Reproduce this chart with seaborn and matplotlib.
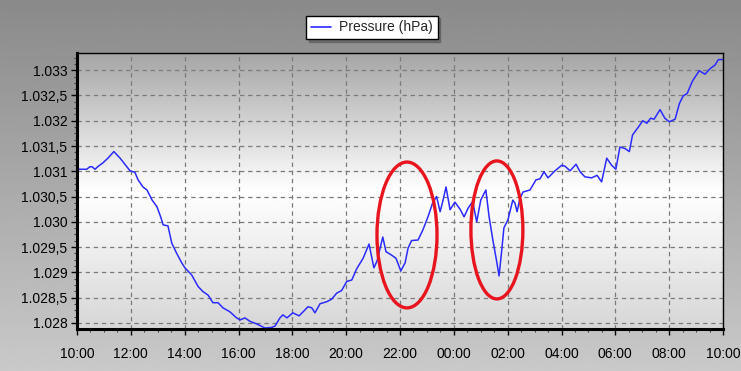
import numpy as np
import pandas as pd
import matplotlib
matplotlib.use("Agg")
import matplotlib.pyplot as plt
from matplotlib.patches import Ellipse
from matplotlib.ticker import FuncFormatter, MultipleLocator
import seaborn as sns

# hours since 10:00
hours = [0.00, 0.36, 0.48, 0.56, 0.67, 0.77, 0.97, 1.15, 1.37, 1.60, 1.78, 1.97, 2.15, 2.27, 2.45,
         2.60, 2.79, 2.97, 3.12, 3.20, 3.38, 3.52, 3.70, 3.89, 4.01, 4.26, 4.50, 4.68, 4.87, 5.05,
         5.24, 5.42, 5.68, 5.93, 6.06, 6.24, 6.43, 6.68, 6.98, 7.23, 7.36, 7.54, 7.65, 7.80, 8.02,
         8.25, 8.40, 8.58, 8.72, 8.84, 9.03, 9.28, 9.46, 9.65, 9.83, 10.02, 10.21, 10.39, 10.63, 10.85,
         11.03, 11.15, 11.36, 11.48, 11.69, 11.85, 12.03, 12.19, 12.30, 12.43, 12.67, 12.85, 13.04, 13.21, 13.36,
         13.49, 13.60, 13.71, 13.86, 14.04, 14.23, 14.38, 14.53, 14.70, 14.85, 15.00, 15.19, 15.31, 15.45, 15.60,
         15.68, 15.78, 15.86, 16.01, 16.19, 16.27, 16.35, 16.46, 16.57, 16.83, 17.05, 17.20, 17.35, 17.50, 17.76,
         18.01, 18.13, 18.32, 18.54, 18.69, 18.87, 19.12, 19.32, 19.49, 19.68, 19.86, 20.02, 20.17, 20.36, 20.52,
         20.64, 20.85, 21.02, 21.17, 21.31, 21.44, 21.66, 21.84, 22.00, 22.22, 22.38, 22.52, 22.67, 22.87, 23.12,
         23.33, 23.52, 23.70, 23.83, 24.00]
pressure = [1031.04, 1031.04, 1031.09, 1031.09, 1031.04, 1031.09, 1031.17, 1031.26, 1031.39, 1031.26, 1031.14, 1031.01, 1030.98, 1030.83, 1030.69,
            1030.63, 1030.43, 1030.30, 1030.08, 1029.94, 1029.92, 1029.58, 1029.38, 1029.19, 1029.09, 1028.95, 1028.72, 1028.62, 1028.55, 1028.40,
            1028.40, 1028.30, 1028.22, 1028.10, 1028.06, 1028.10, 1028.03, 1027.98, 1027.90, 1027.91, 1027.94, 1028.10, 1028.16, 1028.10, 1028.20,
            1028.14, 1028.22, 1028.32, 1028.30, 1028.20, 1028.38, 1028.42, 1028.47, 1028.59, 1028.64, 1028.82, 1028.85, 1029.07, 1029.28, 1029.56,
            1029.09, 1029.23, 1029.70, 1029.41, 1029.34, 1029.28, 1029.03, 1029.19, 1029.48, 1029.63, 1029.64, 1029.84, 1030.10, 1030.37, 1030.50,
            1030.20, 1030.43, 1030.69, 1030.24, 1030.39, 1030.25, 1030.10, 1030.27, 1030.40, 1030.00, 1030.43, 1030.63, 1030.10, 1029.64, 1029.19,
            1028.93, 1029.44, 1029.88, 1030.04, 1030.43, 1030.37, 1030.20, 1030.47, 1030.59, 1030.63, 1030.83, 1030.85, 1030.99, 1030.87, 1031.01,
            1031.12, 1031.10, 1031.01, 1031.14, 1030.99, 1030.89, 1030.87, 1030.92, 1030.79, 1031.26, 1031.12, 1031.04, 1031.48, 1031.45, 1031.39,
            1031.72, 1031.87, 1032.00, 1031.95, 1032.05, 1032.03, 1032.22, 1032.05, 1031.98, 1032.03, 1032.34, 1032.49, 1032.54, 1032.79, 1032.99,
            1032.92, 1033.03, 1033.10, 1033.21, 1033.21]
x_tick_pos = [0, 2, 4, 6, 8, 10, 12, 14, 16, 18, 20, 22, 24]
x_tick_labels = ["10:00", "12:00", "14:00", "16:00", "18:00", "20:00", "22:00",
                 "00:00", "02:00", "04:00", "06:00", "08:00", "10:00"]
series_name = "Pressure (hPa)"

df = pd.DataFrame({"hours": hours, series_name: pressure})

sns.set_style("white")
plt.rcParams["font.family"] = ["Liberation Sans", "DejaVu Sans"]

W, H = 741, 371
fig = plt.figure(figsize=(W / 100, H / 100), dpi=100)

# figure background gradient
bg = fig.add_axes([0, 0, 1, 1], zorder=-10)
grad = np.linspace(0.54, 0.79, 256).reshape(-1, 1)
bg.imshow(grad, aspect="auto", cmap="gray", vmin=0, vmax=1, extent=[0, 1, 1, 0])
bg.set_axis_off()

left, right, top, bottom = 77, 723, 53, 329
ax = fig.add_axes([left / W, 1 - bottom / H, (right - left) / W, (bottom - top) / H])

XMIN, XMAX = 0, 24
YMIN, YMAX = 1027.88, 1033.34

# plot area gradient
ys = np.linspace(0, 1, 256)
vals = np.interp(ys, [0, 0.5, 1.0], [0.65, 1.0, 0.84])
ax.imshow(vals.reshape(-1, 1), aspect="auto", cmap="gray", vmin=0, vmax=1,
          extent=[XMIN, XMAX, YMIN, YMAX], origin="upper", zorder=0)

sns.lineplot(data=df, x="hours", y=series_name, ax=ax, color="#2b2bff",
             linewidth=1.1, label=series_name, zorder=3)

ax.set_xlim(XMIN, XMAX)
ax.set_ylim(YMIN, YMAX)
ax.set_xlabel("")
ax.set_ylabel("")

ax.set_xticks(x_tick_pos)
ax.set_xticklabels(x_tick_labels)
ax.xaxis.set_minor_locator(MultipleLocator(0.5))
ax.yaxis.set_major_locator(MultipleLocator(0.5))
ax.yaxis.set_minor_locator(MultipleLocator(0.125))


def fmt(v, pos):
    ip = int(np.floor(v + 1e-9))
    frac = v - ip
    s = f"{ip // 1000}.{ip % 1000:03d}"
    if abs(frac) > 1e-6:
        s += "," + f"{frac:.1f}"[2:]
    return s


ax.yaxis.set_major_formatter(FuncFormatter(fmt))
ax.tick_params(axis="both", which="major", direction="out", length=4, width=1,
               labelsize=10, colors="black", pad=3, bottom=True, left=True)
ax.tick_params(axis="both", which="minor", direction="out", length=2, width=0.8,
               colors="#404040", bottom=True, left=True)
ax.tick_params(axis="x", which="major", pad=9)

ax.grid(True, which="major", color="#7a7a7a", linestyle=(0, (3.5, 3)), linewidth=0.9, zorder=1)
ax.set_axisbelow(False)
for gl in ax.get_xgridlines() + ax.get_ygridlines():
    gl.set_zorder(1)

for side, sp in ax.spines.items():
    sp.set_visible(True)
    sp.set_color("black")
    sp.set_linewidth(2.2 if side in ("left", "bottom") else 1.0)
    sp.set_zorder(5)

# red annotation ellipses
ax.add_patch(Ellipse((12.26, 1029.74), 2.23, 2.885, fill=False, edgecolor="#e8141e",
                     linewidth=2.4, zorder=4))
ax.add_patch(Ellipse((15.60, 1029.84), 1.93, 2.73, fill=False, edgecolor="#e8141e",
                     linewidth=2.4, zorder=4))

leg = ax.legend(loc="center", bbox_to_anchor=(372 / W, 1 - 27.5 / H),
                bbox_transform=fig.transFigure, frameon=True, fancybox=False,
                shadow=True, fontsize=10, handlelength=1.4, borderpad=0.35,
                handletextpad=0.6)
leg.get_frame().set_edgecolor("black")
leg.get_frame().set_facecolor("white")
leg.get_frame().set_linewidth(1.0)
for line in leg.get_lines():
    line.set_linewidth(1.2)

fig.savefig("out.png", dpi=100)
